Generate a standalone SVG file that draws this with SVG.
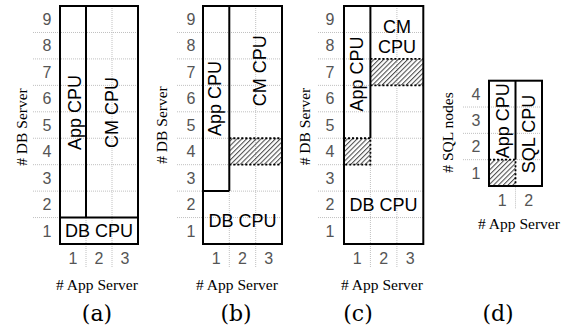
<svg xmlns="http://www.w3.org/2000/svg" width="575" height="331" viewBox="0 0 575 331">
  <style>
    .grid { stroke: #c0c0c0; stroke-width: 1; stroke-dasharray: 1 1; fill: none; }
    .box { stroke: #000; stroke-width: 2; fill: none; }
    .sep { stroke: #000; stroke-width: 2; fill: none; }
    .dash { stroke: #000; stroke-width: 1.8; stroke-dasharray: 2 2; fill: none; }
    .hatch { fill: url(#hatch); stroke: none; }
    .lbl { font-family: "Liberation Sans", Arial, sans-serif; font-size: 18px; fill: #000; text-anchor: middle; }
    .tick { font-family: "Liberation Sans", Arial, sans-serif; font-size: 16px; fill: #555; text-anchor: middle; }
    .axis { font-family: "Liberation Serif", "Times New Roman", serif; font-size: 15.5px; fill: #000; text-anchor: middle; }
    .cap { font-family: "DejaVu Serif", "Liberation Serif", serif; font-size: 22px; fill: #000; text-anchor: middle; }
  </style>
  <defs>
    <!-- diagonal "/" hatching for the overlap cells -->
    <pattern id="hatch" patternUnits="userSpaceOnUse" width="3.4" height="3.4" patternTransform="rotate(45)">
      <line x1="0.6" y1="0" x2="0.6" y2="3.4" stroke="#000" stroke-width="0.75"/>
    </pattern>
  </defs>
  <rect width="575" height="331" fill="#fff"/>

  <!-- (a) -->
  <g id="panel-a">
    <g class="grid">
      <path d="M33 217.56H138M33 191.12H138M33 164.68H138M33 138.24H138M33 111.8H138M33 85.36H138M33 58.92H138M33 32.48H138"/>
      <path d="M86 6V267M112 6V267"/>
    </g>
    <rect class="box" x="60" y="6" width="78" height="238"/>
    <path class="sep" d="M86 6V217.56M60 217.56H138"/>
    <text class="lbl" transform="translate(81.2,112.5) rotate(-90)">App CPU</text>
    <text class="lbl" transform="translate(118,112.5) rotate(-90)">CM CPU</text>
    <text class="lbl" x="99" y="236.5">DB CPU</text>
    <g class="tick">
      <text x="47" y="236.5">1</text><text x="47" y="210">2</text><text x="47" y="183.6">3</text>
      <text x="47" y="157.2">4</text><text x="47" y="130.7">5</text><text x="47" y="104.3">6</text>
      <text x="47" y="77.8">7</text><text x="47" y="51.4">8</text><text x="47" y="25">9</text>
      <text x="73" y="263.5">1</text><text x="99" y="263.5">2</text><text x="125" y="263.5">3</text>
    </g>
    <text class="axis" transform="translate(27,127) rotate(-90)"># DB Server</text>
    <text class="axis" x="97" y="290"># App Server</text>
    <text class="cap" x="97" y="321">(a)</text>
  </g>

  <!-- (b) -->
  <g id="panel-b">
    <g class="grid">
      <path d="M177 217.56H282M177 191.12H282M177 164.68H282M177 138.24H282M177 111.8H282M177 85.36H282M177 58.92H282M177 32.48H282"/>
      <path d="M229.3 6V267M255.7 6V267"/>
    </g>
    <rect class="hatch" x="229.3" y="138.24" width="52.7" height="26.44"/>
    <path class="dash" d="M229.3 138.24H282M229.3 164.68H282"/>
    <rect class="box" x="203" y="6" width="79" height="238"/>
    <path class="sep" d="M229.3 6V191.12M203 191.12H229.3"/>
    <text class="lbl" transform="translate(221.2,98.5) rotate(-90)">App CPU</text>
    <text class="lbl" transform="translate(266.2,70.8) rotate(-90)">CM CPU</text>
    <text class="lbl" x="242.5" y="226.7">DB CPU</text>
    <g class="tick">
      <text x="191" y="236.5">1</text><text x="191" y="210">2</text><text x="191" y="183.6">3</text>
      <text x="191" y="157.2">4</text><text x="191" y="130.7">5</text><text x="191" y="104.3">6</text>
      <text x="191" y="77.8">7</text><text x="191" y="51.4">8</text><text x="191" y="25">9</text>
      <text x="216.2" y="263.5">1</text><text x="242.5" y="263.5">2</text><text x="268.8" y="263.5">3</text>
    </g>
    <text class="axis" transform="translate(167,125) rotate(-90)"># DB Server</text>
    <text class="axis" x="237" y="290"># App Server</text>
    <text class="cap" x="236" y="321">(b)</text>
  </g>

  <!-- (c) -->
  <g id="panel-c">
    <g class="grid">
      <path d="M318 217.56H423.3M318 191.12H423.3M318 164.68H423.3M318 138.24H423.3M318 111.8H423.3M318 85.36H423.3M318 58.92H423.3M318 32.48H423.3"/>
      <path d="M370.4 6V267M396.9 6V267"/>
    </g>
    <rect class="hatch" x="344" y="138.24" width="26.4" height="26.44"/>
    <rect class="hatch" x="370.4" y="58.92" width="52.9" height="26.44"/>
    <path class="dash" d="M344 138.24H370.4V164.68H344M370.4 58.92H423.3M370.4 85.36H423.3"/>
    <rect class="box" x="344" y="6" width="79.3" height="238"/>
    <path class="sep" d="M370.4 6V138.24"/>
    <text class="lbl" transform="translate(363,74) rotate(-90)">App CPU</text>
    <text class="lbl" x="396.9" y="32.5">CM</text>
    <text class="lbl" x="396.9" y="53">CPU</text>
    <text class="lbl" x="383.6" y="211">DB CPU</text>
    <g class="tick">
      <text x="330" y="236.5">1</text><text x="330" y="210">2</text><text x="330" y="183.6">3</text>
      <text x="330" y="157.2">4</text><text x="330" y="130.7">5</text><text x="330" y="104.3">6</text>
      <text x="330" y="77.8">7</text><text x="330" y="51.4">8</text><text x="330" y="25">9</text>
      <text x="357.2" y="263.5">1</text><text x="383.6" y="263.5">2</text><text x="410.1" y="263.5">3</text>
    </g>
    <text class="axis" transform="translate(310,126.5) rotate(-90)"># DB Server</text>
    <text class="axis" x="382" y="290"># App Server</text>
    <text class="cap" x="358" y="321">(c)</text>
  </g>

  <!-- (d) -->
  <g id="panel-d">
    <g class="grid">
      <path d="M463 159.67H542M463 133.35H542M463 107.02H542"/>
      <path d="M515.5 80.7V209"/>
    </g>
    <rect class="hatch" x="489" y="159.67" width="26.5" height="26.33"/>
    <path class="dash" d="M489 159.67H515.5V186"/>
    <rect class="box" x="489" y="80.7" width="53" height="105.3"/>
    <path class="sep" d="M515.5 80.7V159.67"/>
    <text class="lbl" transform="translate(508.6,120.8) rotate(-90)">App CPU</text>
    <text class="lbl" transform="translate(534.6,134) rotate(-90)">SQL CPU</text>
    <g class="tick">
      <text x="476" y="178.5">1</text><text x="476" y="152.2">2</text>
      <text x="476" y="125.9">3</text><text x="476" y="99.6">4</text>
      <text x="502.2" y="205.5">1</text><text x="528.8" y="205.5">2</text>
    </g>
    <text class="axis" transform="translate(453,132.5) rotate(-90)"># SQL nodes</text>
    <text class="axis" x="519" y="229"># App Server</text>
    <text class="cap" x="498" y="321">(d)</text>
  </g>
</svg>
